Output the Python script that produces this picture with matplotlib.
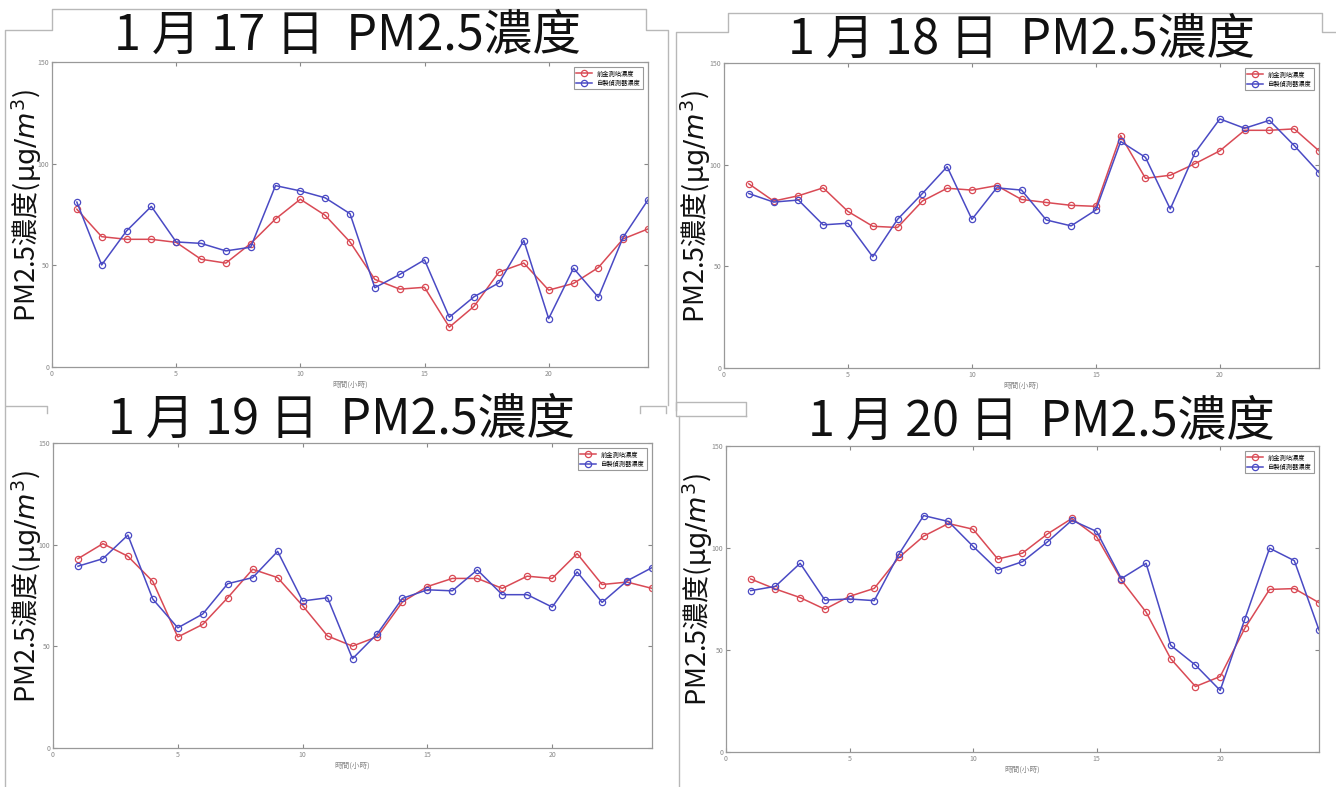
import matplotlib
matplotlib.use("Agg")
import matplotlib.pyplot as plt
from matplotlib.lines import Line2D

plt.rcParams['font.family'] = ['Noto Sans CJK TC', 'DejaVu Sans']
plt.rcParams['mathtext.fontset'] = 'dejavusans'

W, H = 1336, 787

hours = list(range(1, 25))
months = ['1', '1', '1', '1']
dates = ['17', '18', '19', '20']
legend_labels = ['前金測站濃度', '自製偵測器濃度']

# 前金測站 (red)
station = [
    [77.6, 64.1, 62.8, 62.8, 61.3, 53.0, 51.1, 60.7, 72.8, 82.5, 74.6, 61.5,
     43.1, 38.3, 39.2, 19.6, 29.9, 46.7, 51.1, 37.8, 41.1, 48.9, 63.0, 67.9],
    [90.6, 82.1, 84.7, 88.6, 77.0, 69.7, 69.1, 82.1, 88.4, 87.5, 89.7, 82.9,
     81.4, 80.0, 79.5, 114.3, 93.3, 94.8, 100.5, 106.8, 116.9, 116.9, 117.6, 106.8],
    [93.1, 100.5, 94.3, 81.9, 54.6, 60.8, 73.9, 87.9, 83.8, 70.0, 55.1, 50.1,
     54.8, 71.8, 79.4, 83.4, 83.4, 78.5, 84.5, 83.4, 95.6, 80.4, 81.6, 78.5],
    [84.8, 79.9, 75.7, 70.0, 76.3, 80.2, 95.4, 105.8, 112.0, 109.2, 94.6, 97.5,
     106.8, 114.5, 105.5, 84.3, 68.6, 45.7, 32.1, 37.0, 60.7, 79.7, 80.1, 73.2],
]
# 自製偵測器 (blue)
sensor = [
    [81.1, 50.2, 66.9, 79.0, 61.5, 60.8, 57.1, 58.9, 89.2, 86.6, 83.2, 75.4,
     39.0, 45.5, 52.7, 24.5, 34.6, 41.4, 62.2, 23.8, 48.6, 34.3, 63.8, 82.2],
    [85.8, 81.6, 82.6, 70.4, 71.2, 54.7, 73.1, 85.8, 99.0, 73.1, 88.6, 87.5,
     72.8, 69.9, 77.7, 111.4, 103.6, 78.2, 105.9, 122.5, 117.9, 121.8, 109.4, 96.1],
    [89.4, 93.1, 104.7, 73.2, 59.1, 65.9, 80.8, 83.8, 96.7, 72.3, 73.9, 43.9,
     56.3, 73.6, 77.8, 77.3, 87.6, 75.4, 75.4, 69.3, 86.6, 71.6, 82.2, 88.7],
    [79.1, 81.2, 92.5, 74.5, 75.0, 74.2, 97.0, 115.9, 113.0, 100.8, 89.2, 93.3,
     102.9, 113.6, 108.1, 85.0, 92.5, 52.3, 42.6, 30.2, 65.2, 99.9, 93.8, 59.8],
]

# axes boxes in pixels: left, top, right, bottom
boxes = [(52, 62, 648, 367), (724, 63, 1319, 368),
         (53, 443, 652, 748), (726, 446, 1319, 752)]
# title centre, y-label x position
title_pos = [(347, 36), (1021, 40), (341, 420), (1041, 422)]
ylab_x = [27, 696, 27, 698]

fig = plt.figure(figsize=(W / 100, H / 100), dpi=100)


def px(x, y):
    return x / W, 1 - y / H


# slide frame outlines
frames = [
    [(5, 405), (5, 30), (52, 30), (52, 9), (646, 9), (646, 30), (668, 30), (668, 405)],
    [(676, 410), (676, 32), (728, 32), (728, 13), (1322, 13), (1322, 32), (1336, 32)],
    [(47, 413), (47, 406), (5, 406), (5, 787)],
    [(640, 413), (640, 406), (666, 406), (666, 413)],
    [(746, 416), (746, 402), (676, 402), (676, 416), (746, 416)],
    [(679, 416), (679, 787)],
]
for fr in frames:
    xs, ys = zip(*[px(x, y) for x, y in fr])
    fig.add_artist(Line2D(xs, ys, transform=fig.transFigure, color='#b8b8b8', lw=1))

for i in range(4):
    l, t, r, b = boxes[i]
    ax = fig.add_axes([l / W, 1 - b / H, (r - l) / W, (b - t) / H])
    ax.plot(hours, station[i], color='#d94a55', marker='o', markersize=4.5,
            markerfacecolor='none', markeredgewidth=0.9, lw=1.1, label=legend_labels[0])
    ax.plot(hours, sensor[i], color='#4a4ac4', marker='o', markersize=4.5,
            markerfacecolor='none', markeredgewidth=0.9, lw=1.1, label=legend_labels[1])
    ax.set_xlim(0, 24)
    ax.set_ylim(0, 150)
    ax.set_xticks([0, 5, 10, 15, 20])
    ax.set_yticks([0, 50, 100, 150])
    ax.tick_params(direction='in', top=True, right=True, length=3, width=0.8,
                   labelsize=5, colors='#888888', labelcolor='#888888', pad=2)
    for s in ax.spines.values():
        s.set_color('#999999')
        s.set_linewidth(0.9)
    ax.set_xlabel('時間(小時)', fontsize=5.5, color='#888888', labelpad=2)
    leg = ax.legend(loc='upper right', fontsize=4.5, fancybox=False, framealpha=1,
                    edgecolor='#999999', handlelength=2.5, borderpad=0.4,
                    labelspacing=0.2, borderaxespad=0.8)
    leg.get_frame().set_linewidth(0.8)

    tx, ty = px(*title_pos[i])
    title = f'{months[i]} 月 {dates[i]} 日  PM2.5濃度'
    fig.text(tx, ty, title, fontsize=35, ha='center', va='center', color='#111111')
    yx, yy = px(ylab_x[i], (t + b) / 2 - 9)
    fig.text(yx, yy, r'PM2.5濃度($\mathrm{\mu g}/m^3$)', fontsize=19.5, rotation=90,
             ha='center', va='center', color='#111111')

fig.savefig('out.png', dpi=100)
